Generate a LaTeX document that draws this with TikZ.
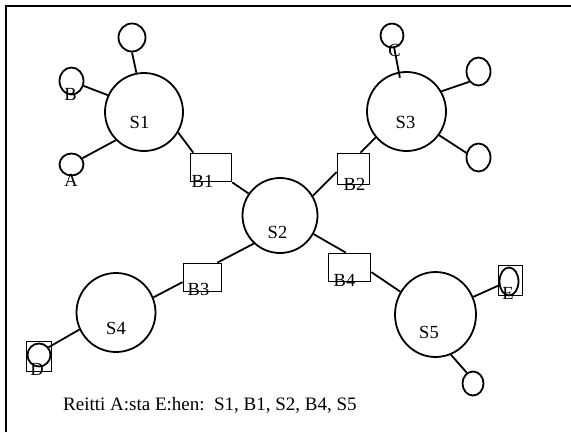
\documentclass[tikz,border=0pt]{standalone}
\usepackage{fontspec}
\setmainfont{Liberation Serif}
\usetikzlibrary{shapes.geometric}
\tikzset{
  ln/.style={line width=1.8pt},
  sw/.style 2 args={ellipse, draw, line width=1.8pt, inner sep=0pt, minimum width=#1pt, minimum height=#2pt},
  br/.style 2 args={rectangle, draw, line width=1.8pt, inner sep=0pt, minimum width=#1pt, minimum height=#2pt},
  lb/.style={anchor=base, inner sep=0pt, font=\fontsize{18.5}{18.5}\selectfont},
}
\begin{document}
\begin{tikzpicture}[x=1pt,y=-1pt]
\useasboundingbox (0,0) rectangle (571,432);
% frame (only left and top edges visible)
\draw[line width=1.8pt] (6,432) -- (6,6) -- (571,6);

% big circles
\node[sw={78}{78}] (S1) at (144,112) {};
\node[sw={75}{75}] (S2) at (280,215.5) {};
\node[sw={79}{79}] (S3) at (406.5,111.5) {};
\node[sw={79}{79}] (S4) at (116,312.5) {};
\node[sw={81}{85}] (S5) at (435.5,314.5) {};

% small circles
\node[sw={27}{28}] (t1) at (132,37.5) {};
\node[sw={24}{27}] (nB) at (71.5,81) {};
\node[sw={24}{22}] (nA) at (71.5,164.5) {};
\node[sw={23}{24}] (nC) at (392,35.5) {};
\node[sw={24}{28}] (t3a) at (478.5,71.5) {};
\node[sw={24}{28}] (t3b) at (478.5,157.5) {};
\node[sw={23}{23}] (nD) at (39,355) {};
\node[br={25}{30}] (Dbox) at (39,356.5) {};
\node[sw={19}{28}] (nE) at (509,281.5) {};
\node[br={24}{30}] (Ebox) at (510.5,280.5) {};
\node[sw={21}{24}] (t5) at (473,383.5) {};

% bridges
\node[br={41}{28}] (B1) at (211,167.5) {};
\node[br={32}{31}] (B2) at (353.5,169) {};
\node[br={38}{28}] (B3) at (202.5,277.5) {};
\node[br={42}{28}] (B4) at (349.5,267.5) {};

% connectors
\draw[ln] (S1.101) -- (t1.270);
\draw[ln] (S1.155) -- (nB.-22);
\draw[ln] (S1.225) -- (nA.30);
\draw[ln] (S1.-31) -- (B1.140);
\draw[ln] (B1.-35) -- (S2.145);
\draw[ln] (S2.31) -- (B2.190);
\draw[ln] (B2.67) -- (S3.220);
\draw[ln,shorten <=-6pt] (S3.101) -- (nC.-80);
\draw[ln] (S3.30) -- (t3a.228);
\draw[ln] (S3.-36) -- (t3b.159);
\draw[ln] (S2.227) -- (B3.45);
\draw[ln] (B3.193) -- (S4.22);
\draw[ln] (S4.205) -- (nD.39);
\draw[ln] (S2.-29) -- (B4.104);
\draw[ln] (B4.-12) -- (S5.147);
\draw[ln] (S5.25) -- (nE.201);
\draw[ln] (S5.-69) -- (t5.120);

% labels
\node[lb] (lS1) at (139.5,128) {S1};
\node[lb] (lS2) at (277.5,238) {S2};
\node[lb] (lS3) at (405.5,128) {S3};
\node[lb] (lS4) at (116,334) {S4};
\node[lb] (lS5) at (429,338) {S5};
\node[lb] (lB1) at (202.5,187) {B1};
\node[lb] (lB2) at (354.5,190) {B2};
\node[lb] (lB3) at (198.5,295.5) {B3};
\node[lb] (lB4) at (344.5,286.5) {B4};
\node[lb] (lA) at (71,186) {A};
\node[lb] (lB) at (70.5,100) {B};
\node[lb] (lC) at (394.5,56) {C};
\node[lb] (lD) at (37,375) {D};
\node[lb] (lE) at (508,299) {E};

\node[anchor=base west, inner sep=0pt, font=\fontsize{19}{19}\selectfont] (route) at (63,410) {Reitti A:sta E:hen:\hspace{0.5em}S1, B1, S2, B4, S5};
\end{tikzpicture}
\end{document}
